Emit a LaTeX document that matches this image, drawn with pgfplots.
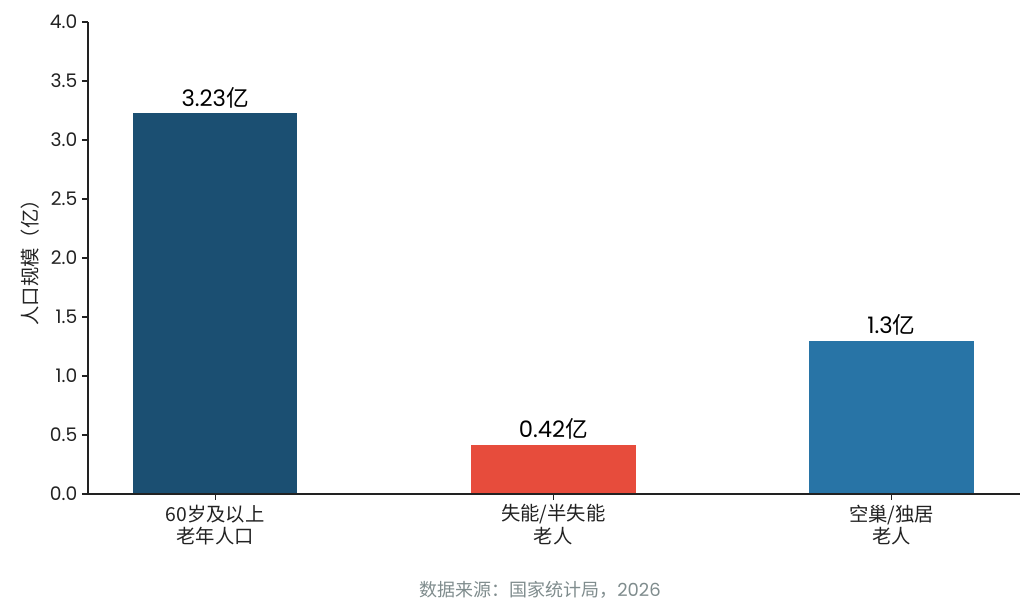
\documentclass[border=0pt]{standalone}
\usepackage{pgfplots}
\pgfplotsset{compat=1.18}
\usepackage{fontspec}
\setmainfont{Poppins}
\newfontfamily\cjk{Noto Sans CJK SC}
\definecolor{c1}{HTML}{1B4F72}
\definecolor{c2}{HTML}{E74C3C}
\definecolor{c3}{HTML}{2874A6}
\definecolor{axc}{HTML}{222222}
\definecolor{srcc}{HTML}{7F8C8D}
\begin{document}
\begin{tikzpicture}
\useasboundingbox (-66pt,-90pt) rectangle (708.75pt,370.5pt);
\begin{axis}[
  at={(0pt,0pt)}, anchor=south west,
  scale only axis, width=699pt, height=354pt,
  xmin=-0.376, xmax=2.38, ymin=0, ymax=4,
  axis on top,
  axis x line*=bottom, axis y line*=left,
  axis line style={axc, line width=0.9pt},
  every tick/.style={axc, line width=0.9pt},
  tick align=outside, major tick length=4.5pt,
  ytick={0,0.5,1,1.5,2,2.5,3,3.5,4},
  yticklabel style={/pgf/number format/fixed, /pgf/number format/fixed zerofill, /pgf/number format/precision=1, /pgf/number format/assume math mode=true, font=\fontsize{14}{15}\selectfont, text=axc},
  xtick={0,1,2},
  xticklabels={{\cjk 60岁及以上}\\{\cjk 老年人口}, {\cjk 失能/半失能}\\{\cjk 老人}, {\cjk 空巢/独居}\\{\cjk 老人}},
  xticklabel style={align=center, font=\fontsize{14.5}{17}\selectfont, yshift=0pt, text=axc},
  ylabel={\cjk 人口规模（亿）},
  ylabel style={font=\fontsize{14.5}{16}\selectfont, yshift=1pt, text=axc},
  ybar, bar width=0.49, bar shift=0pt,
  nodes near coords={\pgfmathprintnumber[assume math mode=true]{\pgfplotspointmeta}{\cjk 亿}},
  nodes near coords style={font=\fontsize{17}{19}\selectfont, text=black, anchor=south, yshift=0pt},
  clip=false,
]
\addplot[fill=c1, draw=white, line width=0.8pt] coordinates {(0,3.23)};
\addplot[fill=c2, draw=white, line width=0.8pt] coordinates {(1,0.42)};
\addplot[fill=c3, draw=white, line width=0.8pt] coordinates {(2,1.3)};
\end{axis}
\node[text=srcc, font=\fontsize{13.5}{15}\selectfont] at (339pt,-72pt) {{\cjk 数据来源：国家统计局，}2026};
\end{tikzpicture}
\end{document}
